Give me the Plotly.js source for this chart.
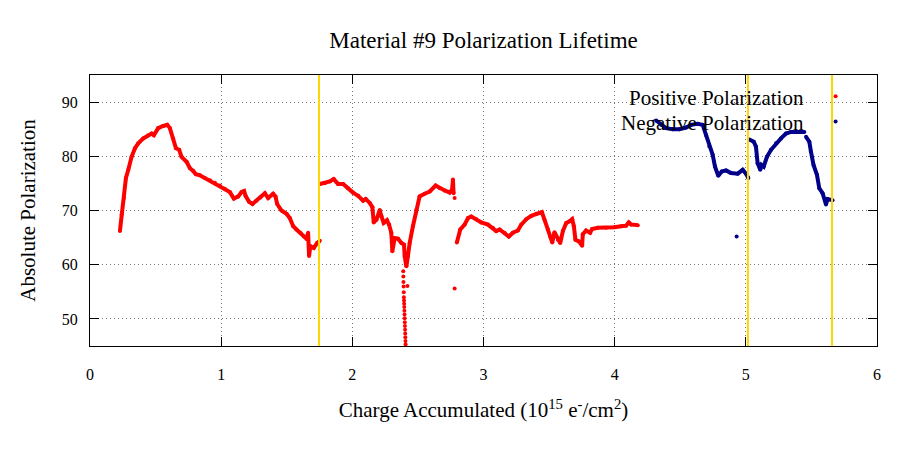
<!DOCTYPE html>
<html>
<head>
<meta charset="utf-8">
<script src="https://cdn.plot.ly/plotly-3.0.1.min.js"></script>
<style>html,body{margin:0;padding:0;background:#fff;}#chart{width:900px;height:450px;}</style>
</head>
<body>
<div id="chart"></div>
<script>
// ---- Data ----
const chartTitle = "Material #9 Polarization Lifetime";
const xTitle = "Charge Accumulated (10<sup>15</sup> e<sup>-</sup>/cm<sup>2</sup>)";
const yTitle = "Absolute Polarization";
const seriesNames = ["Positive Polarization", "Negative Polarization"];
const xTicks = [0, 1, 2, 3, 4, 5, 6];
const yTicks = [50, 60, 70, 80, 90];

// Positive polarization, main run (null = gap between runs)
const posX = [0.228,0.241,0.259,0.274,0.292,0.317,0.343,0.368,0.406,0.444,0.470,0.487,0.520,0.558,0.589,0.609,0.634,0.655,0.680,0.698,0.736,0.762,0.787,0.807,0.838,0.876,0.914,0.952,0.990,1.028,1.066,1.097,1.130,1.155,1.175,1.186,1.213,1.239,1.269,1.300,1.333,1.358,1.396,1.414,1.427,1.460,1.498,1.523,1.549,1.574,1.605,1.630,1.650,1.663,1.670,1.680,1.706,1.731,1.752,
  null,
  1.752,1.790,1.828,1.858,1.891,1.930,1.967,2.005,2.044,2.082,2.102,2.133,2.153,2.163,2.184,2.209,2.222,2.239,2.264,2.280,2.297,2.305,2.323,2.348,2.374,2.394,2.399,2.412,2.424,2.437,2.462,2.488,2.513,2.551,2.590,2.635,2.666,2.704,2.742,2.760,2.767,2.772,
  null,
  2.797,2.823,2.856,2.882,2.907,2.945,2.983,3.034,3.072,3.097,3.123,3.161,3.193,3.224,3.262,3.288,3.326,3.364,3.402,3.445,3.465,3.491,3.508,3.524,3.541,3.567,3.585,3.605,3.631,3.656,3.676,3.689,3.701,3.727,3.752,3.757,3.782,3.813,3.828,3.871,3.935,3.998,4.049,4.087,4.107,4.126,4.176];
const posY = [66.2,69.2,72.3,76.0,77.5,79.9,81.5,82.4,83.3,83.9,84.2,83.9,85.2,85.6,85.8,85.2,83.3,81.5,81.2,79.9,79.0,77.8,77.3,76.7,76.5,76.0,75.6,75.1,74.6,74.0,73.4,72.2,72.6,73.4,73.6,72.7,71.6,71.2,71.8,72.4,73.2,72.3,73.1,72.6,71.2,70.0,69.4,68.6,67.1,66.5,65.9,65.2,64.8,65.9,61.6,63.4,63.1,64.0,64.4,
  null,
  74.9,75.05,75.35,75.8,74.9,74.9,74.1,73.3,72.7,71.8,72.1,71.4,70.6,67.8,68.3,70.1,68.9,67.7,68.2,67.4,65.9,62.5,64.9,64.8,64.0,63.7,61.6,59.7,61.6,64.0,67.1,70.1,72.6,73.1,73.5,74.6,74.1,73.7,73.3,73.8,75.7,73.2,
  null,
  64.1,66.5,67.4,68.6,68.9,68.4,67.8,67.4,66.8,66.2,66.5,65.9,65.2,65.9,66.3,67.4,68.4,69.0,69.4,69.7,68.3,66.5,65.2,64.1,66.0,64.6,64.0,66.2,67.7,68.0,68.4,67.1,64.6,64.3,63.5,65.6,66.3,65.9,66.6,66.8,66.8,66.9,67.1,67.2,67.8,67.4,67.3];

// Positive polarization, isolated points
const posStrayX = [2.388,2.389,2.390,2.391,2.392,2.393,2.394,2.395,2.396,2.397,2.398,2.399,2.400,2.401,2.402,2.403,2.404,2.405,2.406,2.420,2.780,2.780];
const posStrayY = [58.8,57.8,56.8,56.0,54.9,54.0,53.4,52.8,52.2,51.5,50.8,50.1,49.4,48.7,48.0,47.3,46.6,45.9,45.3,56.05,72.3,55.6];

// Negative polarization, main run
const negX = [4.316,4.354,4.392,4.443,4.493,4.544,4.583,4.633,4.671,4.697,4.722,4.747,4.765,4.790,4.816,4.849,4.887,4.938,4.976,5.001,5.019,
  null,
  5.027,5.060,5.077,5.090,5.110,5.120,5.136,5.161,5.192,5.230,5.268,5.306,5.344,5.395,5.446,
  null,
  5.459,5.484,5.496,5.516,5.542,5.560,5.585,5.611,5.623,5.661];
const negY = [86.6,85.8,85.2,85.0,85.0,85.3,85.8,86.0,85.8,83.9,81.8,80.3,78.1,76.4,77.2,77.4,76.9,76.8,77.5,76.8,76.0,
  null,
  83.1,82.7,81.8,78.7,77.5,78.4,78.1,79.9,81.2,82.4,83.3,84.2,84.5,84.5,84.5,
  null,
  83.6,82.7,80.9,78.4,76.6,74.1,73.2,71.1,72.1,71.9];

// Negative polarization, isolated points
const negStrayX = [4.930];
const negStrayY = [65.2];

// Vertical reference lines (charge values)
const refLinesX = [1.746, 5.016, 5.657];

// ---- Styling ----
const FONT = "Liberation Serif, Times New Roman, serif";
const RED = "#ff0000";
const BLUE = "#00008b";
const GOLD = "#ffd700";

const traces = [
  {x: posX, y: posY, type: "scatter", mode: "lines+markers", name: seriesNames[0], showlegend: false,
   line: {color: RED, width: 4}, marker: {color: RED, size: 4}, connectgaps: false, hoverinfo: "x+y"},
  {x: posStrayX, y: posStrayY, type: "scatter", mode: "markers", name: " ", legendrank: 1,
   marker: {color: RED, size: 4}, hoverinfo: "x+y"},
  {x: negX, y: negY, type: "scatter", mode: "lines+markers", name: seriesNames[1], showlegend: false,
   line: {color: BLUE, width: 4}, marker: {color: BLUE, size: 4}, connectgaps: false, hoverinfo: "x+y"},
  {x: negStrayX, y: negStrayY, type: "scatter", mode: "markers", name: "  ", legendrank: 2,
   marker: {color: BLUE, size: 4}, hoverinfo: "x+y"}
];

const shapes = refLinesX.map(v => ({
  type: "line", xref: "x", yref: "paper", x0: v, x1: v, y0: 0, y1: 1,
  line: {color: GOLD, width: 2}, layer: "above"
}));

const layout = {
  width: 900, height: 450,
  margin: {l: 90, r: 23, t: 75, b: 104},
  paper_bgcolor: "#fff", plot_bgcolor: "#fff",
  font: {family: FONT, color: "#000", size: 15},
  title: {text: chartTitle, font: {family: FONT, size: 23, color: "#000"},
          x: 0.5, xref: "paper", y: 0.912, yref: "container", yanchor: "middle"},
  xaxis: {
    range: [0, 6], tickvals: xTicks, ticktext: xTicks.map(String),
    ticks: "inside", ticklen: 9, tickcolor: "#000", tickwidth: 1,
    showline: true, linecolor: "#000", linewidth: 1, mirror: "ticks",
    showgrid: true, gridcolor: "#777", griddash: "1px,3px", gridwidth: 1,
    zeroline: false, ticklabelstandoff: 14,
    tickfont: {family: FONT, size: 16},
    title: {text: xTitle, font: {family: FONT, size: 21}, standoff: 20}
  },
  yaxis: {
    range: [45, 95], tickvals: yTicks, ticktext: yTicks.map(String),
    ticks: "inside", ticklen: 9, tickcolor: "#000", tickwidth: 1,
    showline: true, linecolor: "#000", linewidth: 1, mirror: "ticks",
    showgrid: true, gridcolor: "#777", griddash: "1px,3px", gridwidth: 1,
    zeroline: false, ticklabelstandoff: 8,
    tickfont: {family: FONT, size: 16},
    title: {text: yTitle, font: {family: FONT, size: 21}, standoff: 20}
  },
  showlegend: true,
  legend: {x: 0.922, y: 0.986, xanchor: "left", yanchor: "top", xref: "paper", yref: "paper",
           bgcolor: "rgba(0,0,0,0)", borderwidth: 0, font: {family: FONT, size: 17},
           itemwidth: 30, tracegroupgap: 0},
  annotations: [
    {text: seriesNames[0], xref: "paper", yref: "paper", x: 0.9098, y: 0.915,
     xanchor: "right", yanchor: "middle", showarrow: false, font: {family: FONT, size: 21, color: "#000"}},
    {text: seriesNames[1], xref: "paper", yref: "paper", x: 0.9098, y: 0.823,
     xanchor: "right", yanchor: "middle", showarrow: false, font: {family: FONT, size: 21, color: "#000"}}
  ],
  shapes: shapes
};

Plotly.newPlot("chart", traces, layout, {displayModeBar: false, staticPlot: true});
</script>
</body>
</html>
